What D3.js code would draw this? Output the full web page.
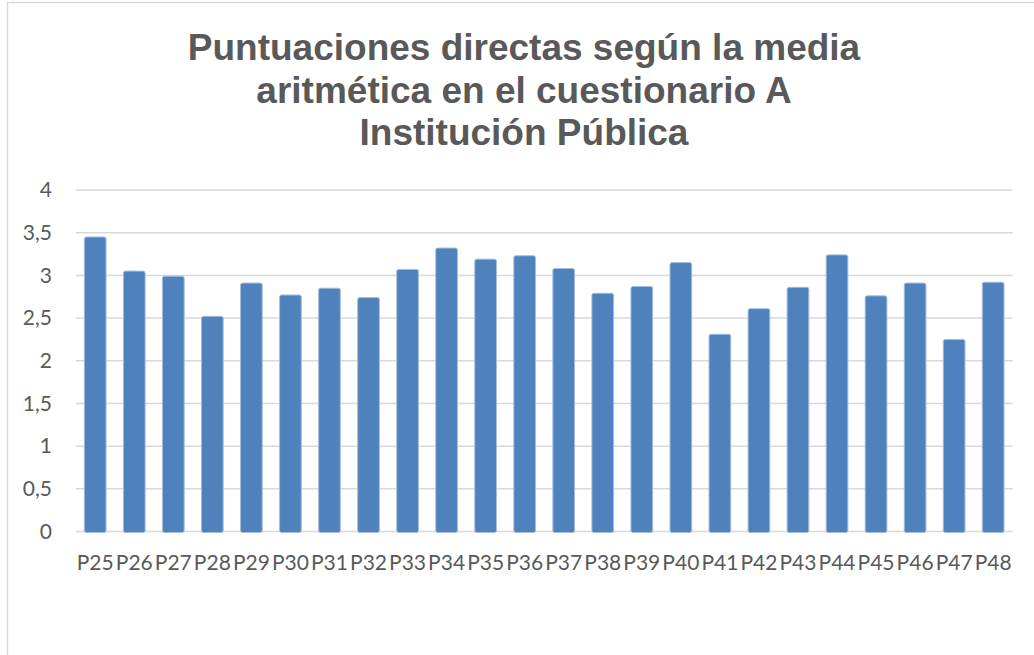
<!DOCTYPE html>
<html>
<head>
<meta charset="utf-8">
<script src="https://cdn.jsdelivr.net/npm/d3@7"></script>
<style>
  body { margin: 0; background: #fff; }
  svg { display: block; }
</style>
</head>
<body>
<svg id="chart" width="1034" height="655"></svg>
<script>
// chart data
var preguntas = ["P25","P26","P27","P28","P29","P30","P31","P32","P33","P34","P35","P36",
                 "P37","P38","P39","P40","P41","P42","P43","P44","P45","P46","P47","P48"];
var medias = [3.45, 3.05, 2.99, 2.52, 2.91, 2.77, 2.85, 2.74, 3.07, 3.32, 3.19, 3.23,
              3.08, 2.79, 2.87, 3.15, 2.31, 2.61, 2.86, 3.24, 2.76, 2.91, 2.25, 2.92];
var yTicks = [0, 0.5, 1, 1.5, 2, 2.5, 3, 3.5, 4];
var titulo = ["Puntuaciones directas según la media",
              "aritmética en el cuestionario A",
              "Institución Pública"];

var svg = d3.select("#chart");

/* outer frame of the chart area (only top and left show) */
svg.append("rect")
    .attr("x", 7.5).attr("y", 2.5)
    .attr("width", 1200).attr("height", 800)
    .attr("fill", "none")
    .attr("stroke", "#d9d9d9")
    .attr("stroke-width", 1.5);

var plotLeft = 75.7, plotRight = 1012.7, plotTop = 190, plotBottom = 531.5;

var x = d3.scaleBand()
    .domain(preguntas)
    .range([plotLeft, plotRight])
    .paddingInner(0.444)
    .paddingOuter(0.222);

var y = d3.scaleLinear()
    .domain([0, 4])
    .range([plotBottom, plotTop]);

/* gridlines */
svg.append("g")
    .selectAll("line")
    .data(yTicks)
    .enter().append("line")
    .attr("x1", plotLeft).attr("x2", plotRight)
    .attr("y1", function(d){ return y(d); })
    .attr("y2", function(d){ return y(d); })
    .attr("stroke", "#d9d9d9")
    .attr("stroke-width", 1.5);

/* y axis labels */
var yAxis = d3.axisLeft(y)
    .tickValues(yTicks)
    .tickSize(0)
    .tickPadding(0)
    .tickFormat(function(d){ return String(d).replace(".", ","); });

var gy = svg.append("g")
    .attr("transform", "translate(52,0)")
    .call(yAxis);
gy.select(".domain").remove();
gy.selectAll("text")
    .attr("fill", "#595959")
    .style("font-family", "Lato, 'Open Sans', sans-serif")
    .style("font-size", "21px");

/* bars */
svg.append("g")
    .selectAll("rect")
    .data(medias)
    .enter().append("rect")
    .attr("x", function(d, i){ return x(preguntas[i]); })
    .attr("y", function(d){ return y(d); })
    .attr("width", x.bandwidth())
    .attr("height", function(d){ return y(0) - y(d) + 1; })
    .attr("rx", 2)
    .attr("fill", "#4f81bd")
    .attr("stroke", "#a3bddf")
    .attr("stroke-width", 1);

/* x axis labels */
var xAxis = d3.axisBottom(x)
    .tickSize(0)
    .tickPadding(0);

var gx = svg.append("g")
    .attr("transform", "translate(0,555)")
    .call(xAxis);
gx.select(".domain").remove();
gx.selectAll("text")
    .attr("fill", "#595959")
    .attr("dy", "0.71em")
    .style("font-family", "Lato, 'Open Sans', sans-serif")
    .style("font-size", "21px");

/* title */
svg.append("g")
    .selectAll("text")
    .data(titulo)
    .enter().append("text")
    .attr("x", 524)
    .attr("y", function(d, i){ return 60 + i * 42.5; })
    .attr("text-anchor", "middle")
    .attr("fill", "#595959")
    .style("font-family", "'Liberation Sans', Arial, sans-serif")
    .style("font-weight", "bold")
    .style("font-size", "37px")
    .text(function(d){ return d; });
</script>
</body>
</html>
